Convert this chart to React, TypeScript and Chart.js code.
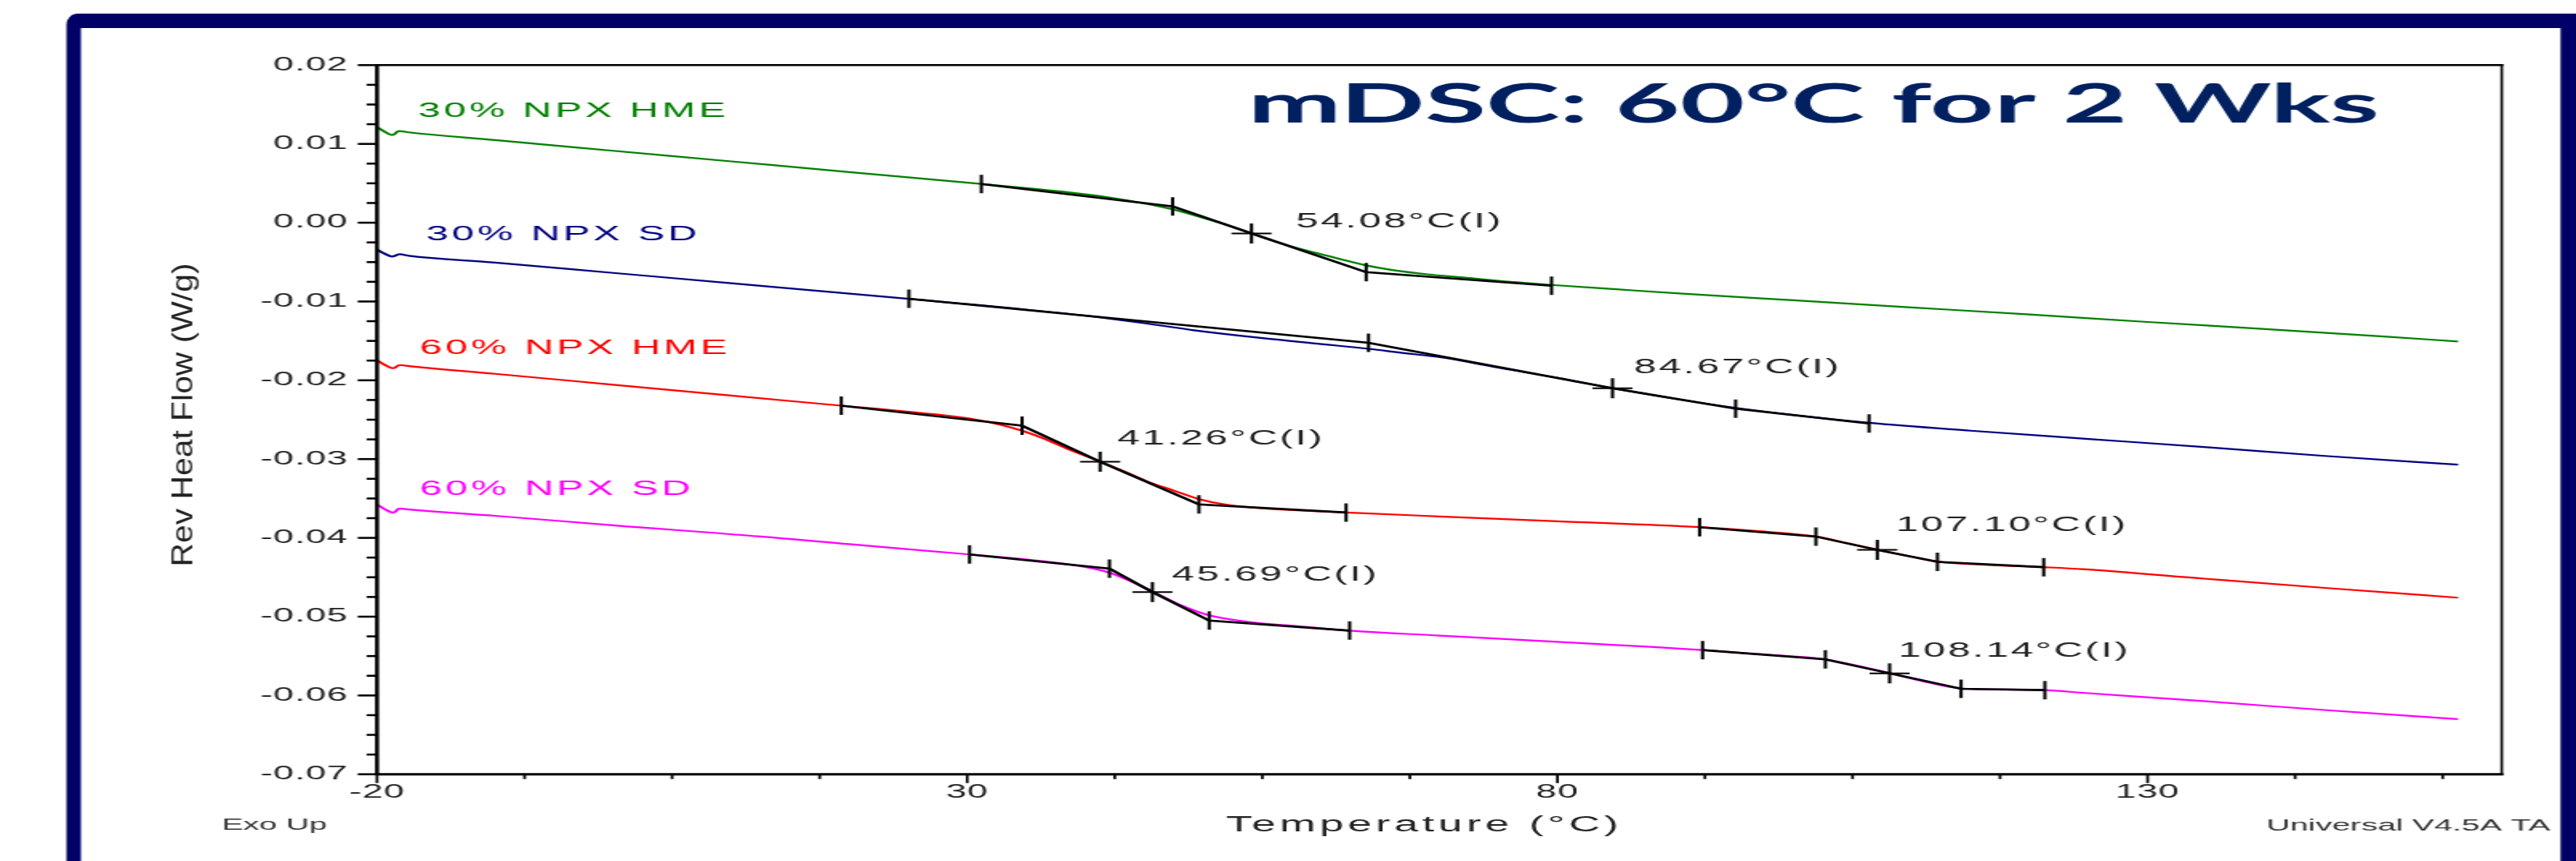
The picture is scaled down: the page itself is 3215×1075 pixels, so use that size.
import React, { useEffect, useRef } from 'react';
import { Chart, registerables } from 'chart.js';

Chart.register(...registerables);

// ---------------- data ----------------
const xTickValues = [-20, 30, 80, 130];
const xTickLabels = ['-20', '30', '80', '130'];
const yTickValues = [0.02, 0.01, 0, -0.01, -0.02, -0.03, -0.04, -0.05, -0.06, -0.07];
const yTickLabels = ['0.02', '0.01', '0.00', '-0.01', '-0.02', '-0.03', '-0.04', '-0.05', '-0.06', '-0.07'];
const xMinorStep = 12.5;
const yMinorStep = 0.0025;

const seriesNames = ['30% NPX HME', '30% NPX SD', '60% NPX HME', '60% NPX SD'];
const seriesColors = ['#008000', '#000080', '#ff0000', '#ff00ff'];

const hme30T = [-20, -19.4, -18.7, -18.15, -17.3, -10, 0, 10, 20, 31.2, 38, 42, 45, 47.4, 50, 52, 54.07, 56, 58, 60, 61.4, 63.8, 66, 69, 72, 76, 79.5, 85, 90.6, 100, 110, 120, 130, 140, 150, 156.3];
const hme30V = [0.01214, 0.0116, 0.01112, 0.01163, 0.01147, 0.01048, 0.00913, 0.00778, 0.00643, 0.00492, 0.00395, 0.0032, 0.00245, 0.0017, 0.0006, -0.0003, -0.00136, -0.00235, -0.00325, -0.004, -0.00454, -0.00542, -0.006, -0.00655, -0.00695, -0.0075, -0.0079, -0.00845, -0.009, -0.00985, -0.01075, -0.01165, -0.0126, -0.0135, -0.01445, -0.01507];

const sd30T = [-20, -19.4, -18.7, -18.1, -17.3, -10, 0, 10, 25.06, 35, 40, 45, 49.2, 55, 60, 64, 67, 70.2, 75, 80, 84.7, 90, 95.1, 100, 106.4, 115, 125, 135, 145, 156.3];
const sd30V = [-0.0034, -0.0039, -0.0043, -0.004, -0.0042, -0.00506, -0.00637, -0.00768, -0.00966, -0.01103, -0.0118, -0.01275, -0.01365, -0.01465, -0.0154, -0.016, -0.01655, -0.0171, -0.0184, -0.0197, -0.021, -0.02235, -0.0235, -0.0244, -0.0254, -0.0264, -0.02745, -0.0285, -0.0296, -0.03071];

const hme60T = [-20, -19.4, -18.6, -18.1, -17.3, -10, 0, 10, 19.33, 25, 30, 33, 34.65, 36.5, 38.5, 41.3, 43.5, 45.3, 47.5, 49.63, 52, 55, 58, 62.1, 70, 80, 92.05, 97, 101.9, 104.5, 107.2, 110, 112.2, 116, 121.2, 124.5, 135, 145, 156.3];
const hme60V = [-0.01746, -0.018, -0.01847, -0.01806, -0.0182, -0.01918, -0.02056, -0.02194, -0.02322, -0.024, -0.0248, -0.0257, -0.0264, -0.0274, -0.0287, -0.03034, -0.0317, -0.03288, -0.034, -0.03508, -0.0358, -0.03625, -0.0365, -0.03678, -0.03728, -0.0379, -0.03864, -0.03915, -0.03983, -0.04066, -0.04153, -0.04238, -0.043, -0.0434, -0.04372, -0.04397, -0.0452, -0.04635, -0.04759];

const sd60T = [-20, -19.4, -18.6, -18.1, -17.3, -10, 0, 12.5, 20, 30.2, 36, 40, 42.05, 44, 45.8, 48, 50.5, 54, 58, 62.4, 70, 80, 92.3, 97, 102.7, 105.5, 108.2, 111, 114.2, 118, 121.3, 124.5, 135, 145, 156.3];
const sd60V = [-0.03576, -0.0363, -0.0368, -0.03627, -0.0364, -0.0372, -0.0384, -0.03983, -0.0408, -0.0421, -0.0429, -0.0437, -0.04441, -0.0456, -0.04688, -0.0485, -0.04983, -0.0507, -0.0512, -0.05177, -0.0524, -0.0532, -0.05424, -0.05475, -0.05542, -0.05625, -0.05719, -0.0582, -0.0591, -0.05925, -0.05932, -0.05966, -0.06075, -0.06185, -0.06301];

// glass-transition constructions: onset, onset2, inflection, end1, end2
const hme30StepT = [31.2, 47.4, 54.08, 63.8, 79.5];
const hme30StepV = [0.00492, 0.00207, -0.00136, -0.00627, -0.008];
const sd30StepT = [25.06, 64.0, 84.67, 95.1, 106.4];
const sd30StepV = [-0.00966, -0.01525, -0.021, -0.02361, -0.02549];
const hme60StepAT = [19.33, 34.65, 41.26, 49.63, 62.1];
const hme60StepAV = [-0.02322, -0.02576, -0.03034, -0.03576, -0.03678];
const hme60StepBT = [92.05, 101.9, 107.1, 112.2, 121.2];
const hme60StepBV = [-0.03864, -0.03983, -0.04153, -0.04305, -0.04372];
const sd60StepAT = [30.2, 42.05, 45.69, 50.5, 62.4];
const sd60StepAV = [-0.0421, -0.0439, -0.04688, -0.0505, -0.05177];
const sd60StepBT = [92.3, 102.7, 108.14, 114.2, 121.3];
const sd60StepBV = [-0.05424, -0.05542, -0.05719, -0.05915, -0.05932];

const stepLabels = ['54.08°C(I)', '84.67°C(I)', '41.26°C(I)', '107.10°C(I)', '45.69°C(I)', '108.14°C(I)'];
const stepLabelT = [57.86, 86.5, 42.74, 108.7, 47.35, 108.9];
const stepLabelV = [-0.00057, -0.01908, -0.02813, -0.03912, -0.04542, -0.05509];

const seriesLabelT = [-16.52, -15.84, -16.38, -16.38];
const seriesLabelV = [0.01346, -0.0022, -0.01664, -0.03454];

const titleText = 'mDSC: 60°C for 2 Wks';
const xTitle = 'Temperature (°C)';
const yTitle = 'Rev Heat Flow (W/g)';
const leftNote = 'Exo Up';
const rightNote = 'Universal V4.5A TA';

// ---------------- layout (canvas is drawn at half width and stretched 2x) ----------------
const W = 1608;
const H = 1075;
const CSS_W = 3215;
const FONT = "'Liberation Sans', Arial, Helvetica, sans-serif";

function pts(t: number[], v: number[]) {
  return t.map((x, i) => ({ x, y: v[i] }));
}

function txt(ctx: any, s: string, x: number, y: number, o: any) {
  ctx.save();
  ctx.translate(x, y);
  if (o.rotate) ctx.rotate(o.rotate);
  ctx.font = o.font;
  ctx.letterSpacing = (o.ls || 0) + 'px';
  ctx.textAlign = o.align || 'left';
  ctx.textBaseline = o.baseline || 'alphabetic';
  if (o.width) {
    const w = ctx.measureText(s).width;
    ctx.scale(o.width / w, 1);
  }
  ctx.fillStyle = o.color;
  ctx.fillText(s, 0, 0);
  ctx.restore();
}

function curve(i: number, t: number[], v: number[]) {
  return {
    label: seriesNames[i],
    data: pts(t, v),
    borderColor: seriesColors[i],
    backgroundColor: seriesColors[i],
    borderWidth: 2.2,
    pointRadius: 0,
    cubicInterpolationMode: 'monotone',
    fill: false,
    order: 2,
  };
}

function step(t: number[], v: number[]) {
  return {
    label: 'construction',
    data: pts(t, v),
    borderColor: '#000',
    backgroundColor: '#000',
    borderWidth: 2.6,
    tension: 0,
    fill: false,
    pointStyle: t.map((_, i) => (i === 2 ? 'cross' : 'line')),
    pointRotation: t.map((_, i) => (i === 2 ? 0 : 90)),
    pointRadius: t.map((_, i) => (i === 2 ? 12.5 : 11.5)),
    pointBorderColor: '#000',
    pointBorderWidth: 2,
    order: 1,
  };
}

export default function App() {
  const ref = useRef<HTMLCanvasElement>(null);

  useEffect(() => {
    const canvas = ref.current;
    if (!canvas) return;

    const decor = {
      id: 'decor',
      beforeDraw(chart: any) {
        const ctx = chart.ctx;
        ctx.save();
        ctx.fillStyle = '#ffffff';
        ctx.fillRect(0, 0, W, H);
        // navy slide frame
        ctx.fillStyle = '#000066';
        ctx.beginPath();
        ctx.roundRect(41.5, 17, W + 60, H + 60, [{ x: 7, y: 14 }]);
        ctx.fill();
        ctx.fillStyle = '#ffffff';
        ctx.fillRect(50.5, 35, 1598.3 - 50.5, H);
        ctx.restore();
        ctx.letterSpacing = '0.5px';
      },
      afterDraw(chart: any) {
        const ctx = chart.ctx;
        const { left, right, top, bottom } = chart.chartArea;
        const xs = chart.scales.x;
        const ys = chart.scales.y;
        ctx.save();
        ctx.strokeStyle = '#000';
        ctx.lineCap = 'butt';
        // plot frame
        ctx.lineWidth = 2.5;
        ctx.beginPath(); ctx.moveTo(left - 1, top); ctx.lineTo(right + 1, top); ctx.stroke();
        ctx.lineWidth = 3;
        ctx.beginPath(); ctx.moveTo(left - 1, bottom); ctx.lineTo(right + 1, bottom); ctx.stroke();
        ctx.lineWidth = 2.5;
        ctx.beginPath(); ctx.moveTo(left, top - 1); ctx.lineTo(left, bottom + 1); ctx.stroke();
        ctx.lineWidth = 1.6;
        ctx.beginPath(); ctx.moveTo(right, top - 1); ctx.lineTo(right, bottom + 1); ctx.stroke();
        // y ticks (major + minor)
        ctx.lineWidth = 2.5;
        const yMin = ys.min, yMax = ys.max;
        const ny = Math.round((yMax - yMin) / yMinorStep);
        for (let i = 0; i <= ny; i++) {
          const v = yMin + i * yMinorStep;
          const py = ys.getPixelForValue(v);
          const len = i % 4 === 0 ? 12 : 6.5;
          ctx.beginPath(); ctx.moveTo(left - len, py); ctx.lineTo(left, py); ctx.stroke();
        }
        // x ticks
        ctx.lineWidth = 1.7;
        for (let v = xs.min; v <= xs.max + 1e-6; v += xMinorStep) {
          const px = xs.getPixelForValue(v);
          const major = xTickValues.some((t) => Math.abs(t - v) < 1e-6);
          const len = major ? 11 : 6;
          ctx.beginPath(); ctx.moveTo(px, bottom); ctx.lineTo(px, bottom + len); ctx.stroke();
        }
        ctx.restore();

        // series labels
        seriesNames.forEach((n, i) => {
          txt(ctx, n, xs.getPixelForValue(seriesLabelT[i]), ys.getPixelForValue(seriesLabelV[i]), {
            font: `25px ${FONT}`, color: seriesColors[i], ls: 2.1,
          });
        });
        // transition labels
        stepLabels.forEach((n, i) => {
          txt(ctx, n, xs.getPixelForValue(stepLabelT[i]), ys.getPixelForValue(stepLabelV[i]), {
            font: `25px ${FONT}`, color: '#222', ls: 1.5,
          });
        });
        // title
        txt(ctx, titleText, 1132, 153, {
          font: `bold 67px Lato, 'Open Sans', sans-serif`, color: '#002060', align: 'center', width: 706,
        });
        // axis titles
        txt(ctx, xTitle, 889, 1038, { font: `27px ${FONT}`, color: '#222', align: 'center', ls: 2.5 });
        txt(ctx, yTitle, 115, 518, {
          font: `18.5px ${FONT}`, color: '#222', align: 'center', baseline: 'middle', rotate: -Math.PI / 2, width: 379,
        });
        // notes
        txt(ctx, leftNote, 138.5, 1036, { font: `20px ${FONT}`, color: '#333' });
        txt(ctx, rightNote, 1592, 1037, { font: `20.5px ${FONT}`, color: '#333', align: 'right' });
      },
    };

    const chart = new Chart(canvas, {
      type: 'line',
      data: {
        datasets: [
          step(hme30StepT, hme30StepV),
          step(sd30StepT, sd30StepV),
          step(hme60StepAT, hme60StepAV),
          step(hme60StepBT, hme60StepBV),
          step(sd60StepAT, sd60StepAV),
          step(sd60StepBT, sd60StepBV),
          curve(0, hme30T, hme30V),
          curve(1, sd30T, sd30V),
          curve(2, hme60T, hme60V),
          curve(3, sd60T, sd60V),
        ] as any,
      },
      options: {
        responsive: false,
        animation: false,
        devicePixelRatio: 1,
        events: [],
        layout: { padding: { left: 0, top: 81.3, right: 46.4, bottom: 0 } },
        plugins: {
          legend: { display: false },
          tooltip: { enabled: false },
          title: { display: false },
        },
        scales: {
          x: {
            type: 'linear',
            min: -20,
            max: 160,
            afterBuildTicks: (s: any) => { s.ticks = xTickValues.map((value) => ({ value })); },
            afterFit: (s: any) => { s.height = H - 966.7; },
            grid: { display: false, drawTicks: false },
            border: { display: false },
            ticks: {
              autoSkip: false,
              maxRotation: 0,
              minRotation: 0,
              padding: 9,
              color: '#222',
              font: { family: FONT, size: 23 },
              callback: (_v: any, i: number) => xTickLabels[i],
            },
          },
          y: {
            type: 'linear',
            min: -0.07,
            max: 0.02,
            afterBuildTicks: (s: any) => { s.ticks = yTickValues.map((value) => ({ value })); },
            afterFit: (s: any) => { s.width = 235.35; },
            grid: { display: false, drawTicks: false },
            border: { display: false },
            ticks: {
              autoSkip: false,
              padding: 18,
              color: '#222',
              font: { family: FONT, size: 23 },
              callback: (_v: any, i: number) => yTickLabels[i],
            },
          },
        },
      } as any,
      plugins: [decor],
    });

    return () => chart.destroy();
  }, []);

  return (
    <div style={{ position: 'fixed', left: 0, top: 0, width: CSS_W, height: H, overflow: 'hidden', background: '#fff' }}>
      <canvas ref={ref} width={W} height={H} style={{ width: CSS_W + 'px', height: H + 'px', display: 'block' }} />
    </div>
  );
}
